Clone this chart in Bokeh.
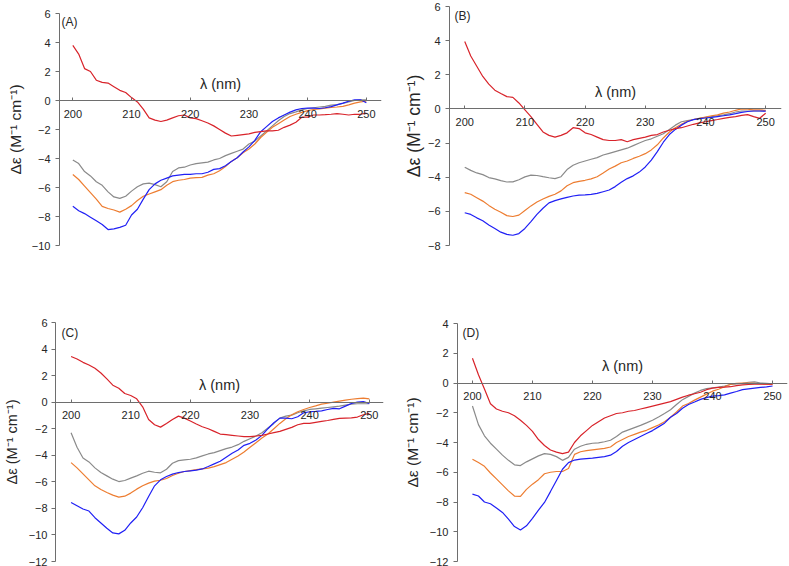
from bokeh.plotting import figure
from bokeh.models import Range1d, FixedTicker, Label, LinearAxis
from bokeh.embed import file_html
from bokeh.resources import INLINE

# ---------------- data ----------------
wavelength = list(range(200, 251))
x_ticks = [200, 210, 220, 230, 240, 250]
panel_tags = ["(A)", "(B)", "(C)", "(D)"]
y_limits = [(-10, 6), (-8, 6), (-12, 6), (-12, 4)]
x_label = "λ (nm)"
y_label = "Δε (M⁻¹ cm⁻¹)"

a_red = [3.8, 3.2, 2.2, 2.0, 1.4, 1.25, 1.2, 0.95, 0.7, 0.55,
         0.2, -0.1, -0.6, -1.2, -1.35, -1.45, -1.35, -1.2, -1.05, -1.0,
         -1.2, -1.25, -1.4, -1.55, -1.75, -2.0, -2.25, -2.45, -2.4, -2.35,
         -2.3, -2.2, -2.15, -2.1, -2.1, -2.05, -1.85, -1.7, -1.5, -1.15,
         -1.15, -1.0, -1.0, -0.98, -0.95, -0.9, -0.95, -1.0, -0.95, -0.95,
         -0.87]
a_grey = [-4.1, -4.35, -4.9, -5.2, -5.6, -5.85, -6.3, -6.65, -6.75, -6.6,
          -6.25, -5.95, -5.75, -5.7, -5.8, -5.95, -5.6, -4.9, -4.65, -4.6,
          -4.45, -4.35, -4.3, -4.25, -4.1, -4.0, -3.8, -3.65, -3.5, -3.35,
          -3.0, -2.8, -2.45, -2.1, -1.75, -1.4, -1.1, -0.9, -0.78, -0.65,
          -0.55, -0.5, -0.45, -0.4, -0.32, -0.28, -0.2, -0.1, 0.0, 0.05,
          0.05]
a_orange = [-5.1, -5.45, -5.9, -6.35, -6.8, -7.3, -7.45, -7.55, -7.7, -7.5,
            -7.25, -6.9, -6.6, -6.45, -6.3, -6.15, -5.85, -5.6, -5.5, -5.45,
            -5.35, -5.32, -5.3, -5.15, -5.05, -4.85, -4.55, -4.2, -3.95, -3.6,
            -3.35, -3.0, -2.55, -2.2, -1.85, -1.6, -1.35, -1.1, -0.95, -0.82,
            -0.7, -0.62, -0.58, -0.52, -0.48, -0.45, -0.4, -0.3, -0.18, -0.1,
            -0.05]
a_blue = [-7.3, -7.6, -7.8, -8.05, -8.3, -8.55, -8.9, -8.85, -8.75, -8.6,
          -7.9, -7.5, -6.8, -6.15, -5.75, -5.5, -5.35, -5.2, -5.15, -5.1,
          -5.1, -5.05, -5.05, -4.95, -4.75, -4.7, -4.5, -4.2, -3.95, -3.55,
          -3.2, -2.75, -2.15, -1.8, -1.45, -1.2, -1.0, -0.8, -0.65, -0.55,
          -0.52, -0.52, -0.55, -0.5, -0.42, -0.3, -0.18, -0.05, 0.05, 0.05,
          -0.15]

b_red = [3.95, 3.1, 2.5, 1.9, 1.45, 1.1, 0.9, 0.72, 0.68, 0.35,
         -0.05, -0.45, -0.9, -1.35, -1.55, -1.65, -1.55, -1.4, -1.1, -1.15,
         -1.4, -1.5, -1.65, -1.8, -1.85, -1.85, -1.8, -1.92, -1.8, -1.72,
         -1.65, -1.55, -1.5, -1.35, -1.25, -1.15, -1.1, -1.0, -0.9, -0.82,
         -0.75, -0.68, -0.62, -0.55, -0.5, -0.45, -0.38, -0.33, -0.45, -0.55,
         -0.25]
b_grey = [-3.42, -3.6, -3.75, -3.85, -4.02, -4.1, -4.2, -4.28, -4.27, -4.15,
          -3.98, -3.88, -3.9, -3.97, -4.03, -4.08, -3.97, -3.55, -3.3, -3.15,
          -3.05, -2.95, -2.85, -2.7, -2.6, -2.5, -2.4, -2.3, -2.15, -2.0,
          -1.85, -1.75, -1.6, -1.45, -1.2, -0.95, -0.75, -0.68, -0.62, -0.55,
          -0.5, -0.45, -0.4, -0.35, -0.28, -0.18, -0.12, -0.12, -0.12, -0.12,
          -0.12]
b_orange = [-4.9, -5.0, -5.2, -5.4, -5.65, -5.88, -6.05, -6.25, -6.3, -6.22,
            -5.95, -5.68, -5.45, -5.28, -5.12, -5.0, -4.8, -4.5, -4.32, -4.24,
            -4.18, -4.1, -3.97, -3.75, -3.52, -3.35, -3.15, -3.05, -2.9, -2.77,
            -2.62, -2.4, -2.1, -1.7, -1.35, -1.1, -0.9, -0.72, -0.62, -0.55,
            -0.48, -0.4, -0.35, -0.25, -0.18, -0.08, 0.0, -0.02, -0.05, -0.06,
            -0.08]
b_blue = [-6.08, -6.18, -6.38, -6.55, -6.8, -7.0, -7.22, -7.35, -7.4, -7.3,
          -7.0, -6.6, -6.18, -5.82, -5.5, -5.37, -5.27, -5.18, -5.1, -5.05,
          -5.03, -5.0, -4.95, -4.85, -4.75, -4.55, -4.3, -4.08, -3.92, -3.7,
          -3.4, -3.0, -2.5, -1.95, -1.5, -1.2, -0.95, -0.75, -0.63, -0.57,
          -0.53, -0.5, -0.45, -0.4, -0.35, -0.28, -0.2, -0.15, -0.12, -0.12,
          -0.13]

c_red = [3.44, 3.25, 3.0, 2.8, 2.55, 2.2, 1.75, 1.28, 1.05, 0.65,
         0.5, 0.25, -0.35, -1.3, -1.7, -1.88, -1.6, -1.3, -1.05, -1.2,
         -1.42, -1.65, -1.85, -2.0, -2.2, -2.4, -2.45, -2.5, -2.55, -2.6,
         -2.6, -2.55, -2.5, -2.4, -2.3, -2.2, -2.05, -1.9, -1.7, -1.6,
         -1.6, -1.52, -1.45, -1.38, -1.3, -1.22, -1.2, -1.18, -1.12, -0.95,
         -0.85]
c_grey = [-2.3, -3.4, -4.2, -4.5, -4.95, -5.3, -5.55, -5.8, -5.98, -5.9,
          -5.72, -5.55, -5.35, -5.2, -5.28, -5.32, -5.05, -4.6, -4.4, -4.35,
          -4.3, -4.2, -4.05, -3.9, -3.8, -3.65, -3.5, -3.38, -3.2, -2.95,
          -2.75, -2.55, -2.3, -1.95, -1.6, -1.2, -1.05, -0.98, -0.8, -0.65,
          -0.55, -0.5, -0.45, -0.4, -0.35, -0.3, -0.22, -0.15, -0.12, -0.12,
          -0.12]
c_orange = [-4.55, -4.95, -5.4, -5.85, -6.3, -6.58, -6.8, -7.0, -7.15, -7.08,
            -6.85, -6.55, -6.3, -6.1, -5.95, -5.88, -5.75, -5.52, -5.35, -5.22,
            -5.15, -5.08, -5.02, -4.97, -4.85, -4.7, -4.55, -4.3, -4.05, -3.75,
            -3.4, -3.05, -2.7, -2.4, -2.0, -1.6, -1.25, -0.95, -0.72, -0.55,
            -0.4, -0.28, -0.15, -0.08, 0.0, 0.08, 0.15, 0.22, 0.27, 0.3,
            0.25]
c_blue = [-7.55, -7.8, -8.05, -8.2, -8.7, -9.1, -9.5, -9.85, -9.92, -9.65,
          -9.1, -8.65, -7.95, -7.1, -6.3, -5.85, -5.6, -5.42, -5.3, -5.22,
          -5.17, -5.12, -5.03, -4.85, -4.65, -4.45, -4.15, -3.85, -3.6, -3.25,
          -3.1, -2.85, -2.5, -2.0, -1.55, -1.2, -1.2, -1.25, -1.1, -0.8,
          -0.72, -0.7, -0.65, -0.55, -0.47, -0.5, -0.3, -0.1, 0.0, 0.05,
          -0.1]

d_red = [1.66, 0.55, -0.4, -1.4, -1.75, -1.9, -2.0, -2.2, -2.5, -2.85,
         -3.25, -3.8, -4.2, -4.5, -4.65, -4.75, -4.65, -4.0, -3.55, -3.2,
         -2.85, -2.6, -2.35, -2.2, -2.05, -2.0, -1.9, -1.85, -1.75, -1.65,
         -1.55, -1.45, -1.35, -1.25, -1.1, -0.95, -0.82, -0.72, -0.62, -0.45,
         -0.35, -0.3, -0.28, -0.25, -0.18, -0.12, -0.1, -0.08, -0.08, -0.08,
         -0.08]
d_grey = [-1.55, -2.8, -3.55, -4.05, -4.45, -4.85, -5.2, -5.5, -5.55, -5.3,
          -5.1, -4.9, -4.75, -4.8, -4.95, -5.2, -5.0, -4.45, -4.25, -4.12,
          -4.05, -4.02, -3.95, -3.85, -3.6, -3.3, -3.15, -3.0, -2.85, -2.68,
          -2.5, -2.28, -2.05, -1.8, -1.45, -1.12, -0.9, -0.68, -0.5, -0.38,
          -0.33, -0.28, -0.2, -0.1, -0.06, -0.02, 0.05, 0.08, 0.0, -0.02,
          -0.05]
d_orange = [-5.12, -5.35, -5.6, -6.05, -6.45, -6.85, -7.25, -7.6, -7.62, -7.15,
            -6.8, -6.5, -6.1, -6.0, -5.95, -5.95, -5.75, -4.8, -4.62, -4.55,
            -4.5, -4.45, -4.4, -4.3, -4.0, -3.8, -3.6, -3.45, -3.3, -3.18,
            -3.0, -2.82, -2.6, -2.3, -1.95, -1.55, -1.38, -1.15, -0.95, -0.75,
            -0.55, -0.42, -0.25, -0.08, -0.02, 0.0, 0.0, -0.02, -0.05, -0.08,
            -0.1]
d_blue = [-7.47, -7.6, -8.0, -8.12, -8.4, -8.7, -9.15, -9.65, -9.88, -9.6,
          -9.1, -8.55, -8.03, -7.3, -6.55, -5.8, -5.35, -5.18, -5.12, -5.08,
          -5.05, -5.0, -4.95, -4.85, -4.6, -4.25, -4.0, -3.8, -3.6, -3.4,
          -3.2, -2.95, -2.7, -2.3, -2.05, -1.7, -1.45, -1.28, -1.1, -0.98,
          -0.88, -0.85, -0.8, -0.68, -0.57, -0.45, -0.4, -0.35, -0.3, -0.26,
          -0.2]

panel_series = [
    (a_grey, a_orange, a_blue, a_red),
    (b_grey, b_orange, b_blue, b_red),
    (c_grey, c_orange, c_blue, c_red),
    (d_grey, d_orange, d_blue, d_red),
]

# ---------------- styles / geometry ----------------
GREY = "#8a8a8a"
ORANGE = "#ed7d31"
BLUE = "#2020f5"
RED = "#d8232a"
line_colors = [GREY, ORANGE, BLUE, RED]
AXIS = "#6e6e6e"
TEXT = "#262626"
FONT = "Liberation Sans"

# each panel is its own absolutely placed canvas
# title: (standoff px, vertical centre in panel units, font size)
panel_geo = [
    dict(pos=(0, 0), size=(400, 290), border=(59, 19, 13, 45),
         xr=(197.73, 252.58), tag=(2, -8), lsd=5, title=(5, -2.26, "15.5px")),
    dict(pos=(400, 0), size=(389, 290), border=(47, 8, 6, 45),
         xr=(197.47, 252.63), tag=(5, -9), lsd=5, title=(1, -1.97, "17.5px")),
    dict(pos=(0, 290), size=(400, 276), border=(52, 17, 32, 5),
         xr=(197.39, 252.38), tag=(6, -10), lsd=4, title=(6, -3.1, "14.5px")),
    dict(pos=(400, 290), size=(389, 276), border=(56, 2, 33, 5),
         xr=(197.51, 252.49), tag=(5, -9), lsd=5, title=(6, -3.74, "15.5px")),
]


def make_panel(i):
    g = panel_geo[i]
    bl, br, bt, bb = g["border"]
    ymin, ymax = y_limits[i]
    p = figure(width=g["size"][0], height=g["size"][1],
               x_range=Range1d(*g["xr"]), y_range=Range1d(ymin, ymax),
               output_backend="svg", toolbar_location=None,
               min_border_left=bl, min_border_right=br,
               min_border_top=bt, min_border_bottom=bb,
               styles={"position": "absolute",
                       "left": f"{g['pos'][0]}px", "top": f"{g['pos'][1]}px"})
    p.outline_line_color = None
    p.xgrid.visible = False
    p.ygrid.visible = False
    p.background_fill_color = "white"
    p.border_fill_color = "white"

    for ys, col in zip(panel_series[i], line_colors):
        p.line(wavelength, ys, line_color=col, line_width=1.2)

    xa = p.xaxis[0]
    xa.fixed_location = 0
    xa.ticker = FixedTicker(ticks=x_ticks)
    xa.major_tick_in = 3
    xa.major_tick_out = 0
    xa.minor_tick_line_color = None
    xa.axis_line_color = AXIS
    xa.major_tick_line_color = AXIS
    xa.major_label_text_font = FONT
    xa.major_label_text_font_size = "11px"
    xa.major_label_text_color = TEXT
    xa.major_label_standoff = 9

    ya = p.yaxis[0]
    ya.ticker = FixedTicker(ticks=list(range(ymin, ymax + 1, 2)))
    ya.major_tick_in = 0
    ya.major_tick_out = 4
    ya.minor_tick_line_color = None
    ya.axis_line_color = AXIS
    ya.major_tick_line_color = AXIS
    ya.major_label_text_font = FONT
    ya.major_label_text_font_size = "11px"
    ya.major_label_text_color = TEXT
    ya.major_label_standoff = g["lsd"]

    # a second, bare left axis carries only the title (so its centre can be placed)
    sd, centre, tsize = g["title"]
    title_axis = LinearAxis(ticker=FixedTicker(ticks=[]), bounds=(centre - 1, centre + 1),
                            axis_line_color=None, major_tick_line_color=None,
                            minor_tick_line_color=None, major_tick_in=0, major_tick_out=0,
                            minor_tick_in=0, minor_tick_out=0, major_label_standoff=0,
                            axis_label=y_label, axis_label_standoff=sd,
                            axis_label_text_font=FONT, axis_label_text_font_size=tsize,
                            axis_label_text_font_style="normal",
                            axis_label_text_color=TEXT)
    p.add_layout(title_axis, "left")

    x0, x1 = g["xr"]
    p.add_layout(Label(x=(x0 + x1) / 2, y=0, y_offset=17, text=x_label,
                       text_align="center", text_baseline="middle",
                       text_font=FONT, text_font_size="14.5px", text_color=TEXT))
    p.add_layout(Label(x=x0, y=ymax, x_offset=g["tag"][0], y_offset=g["tag"][1],
                       text=panel_tags[i], text_align="left", text_baseline="middle",
                       text_font=FONT, text_font_size="12px", text_color=TEXT))
    return p


panels = [make_panel(i) for i in range(4)]

open("out.html", "w").write(file_html(panels, INLINE, "CD spectra"))
